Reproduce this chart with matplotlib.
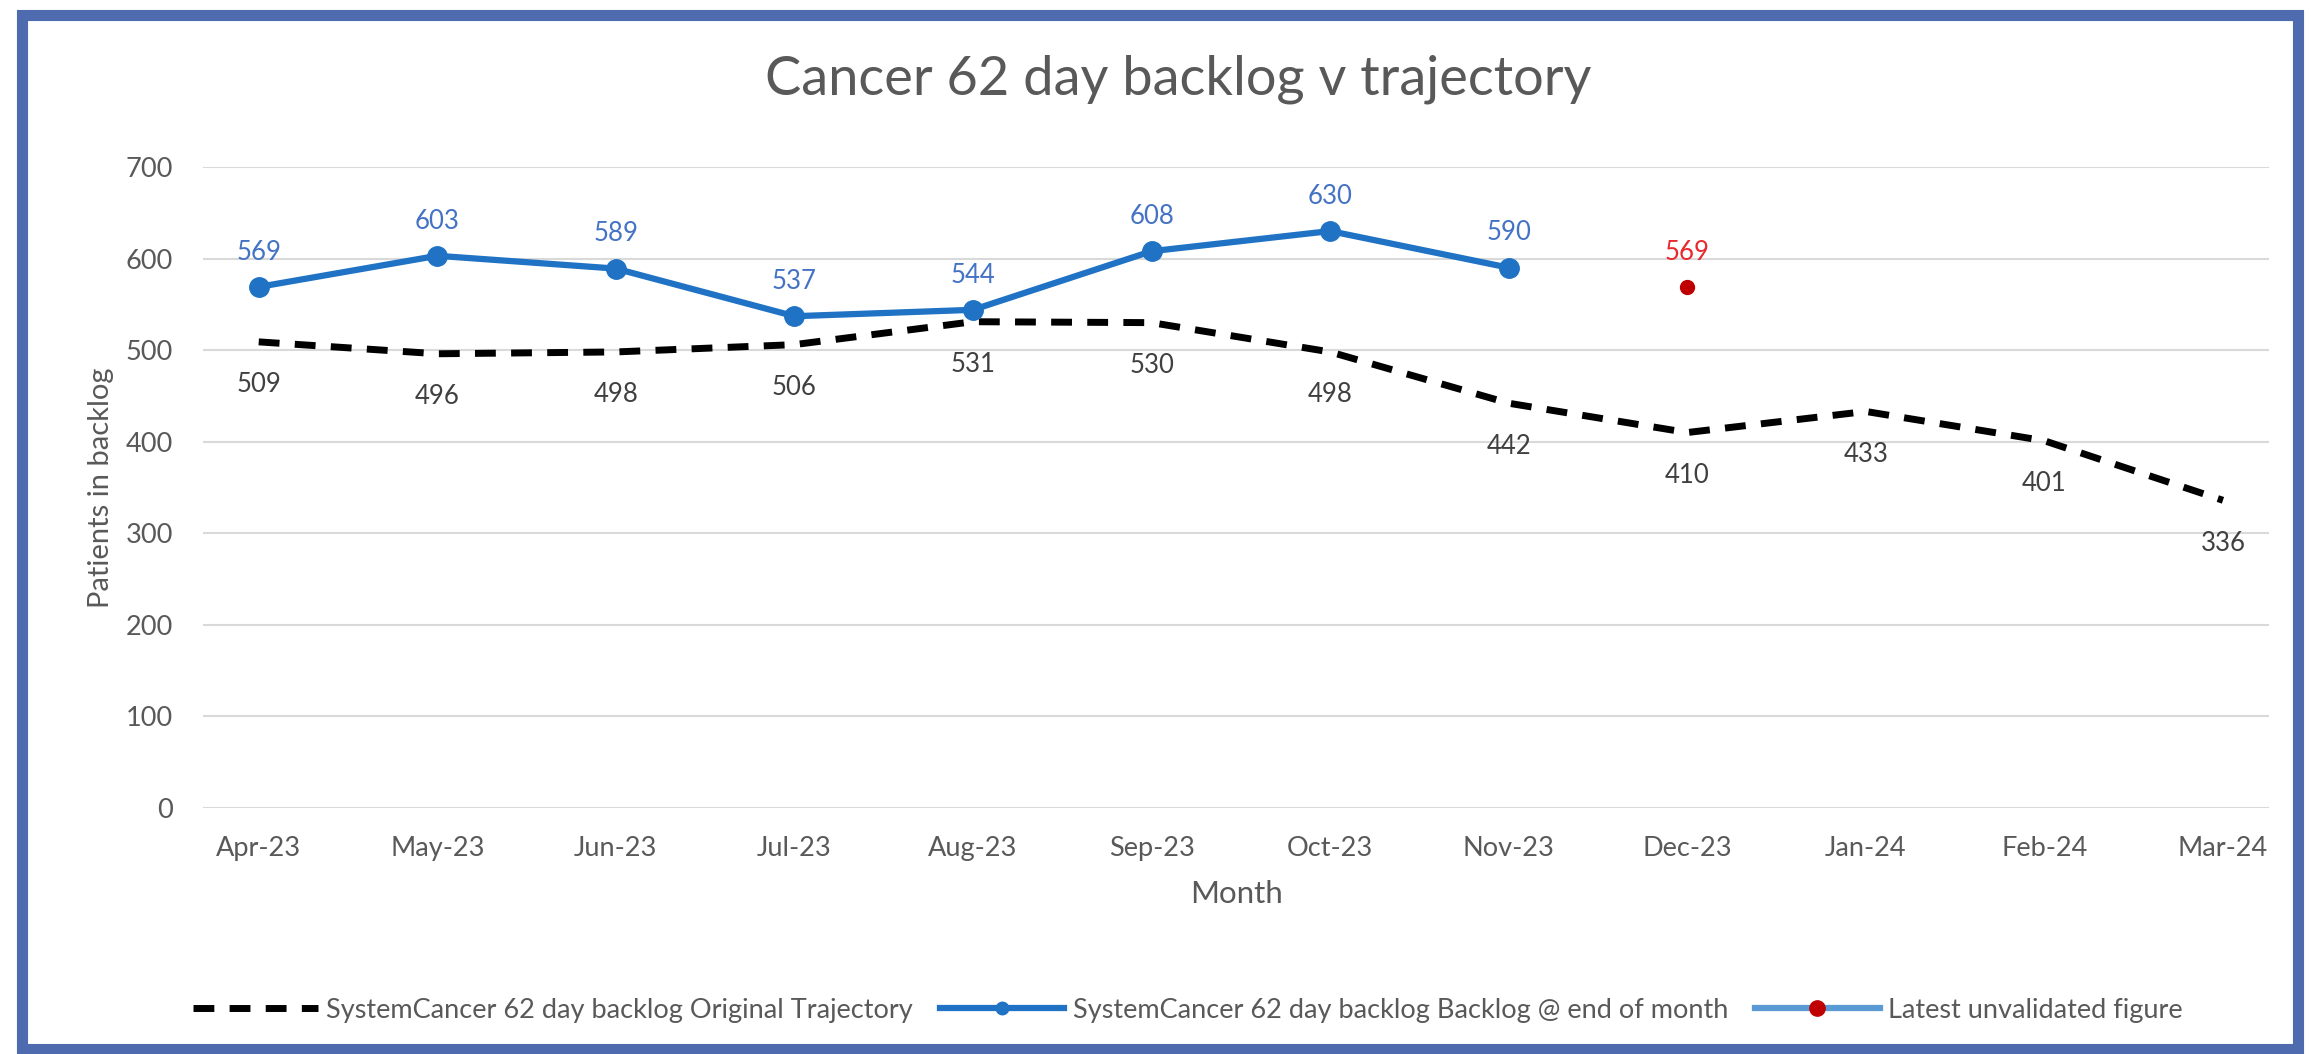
import matplotlib.pyplot as plt
from matplotlib.patches import Rectangle

plt.rcParams['font.family'] = ['Lato', 'DejaVu Sans']

months = ['Apr-23', 'May-23', 'Jun-23', 'Jul-23', 'Aug-23', 'Sep-23',
          'Oct-23', 'Nov-23', 'Dec-23', 'Jan-24', 'Feb-24', 'Mar-24']
trajectory = [509, 496, 498, 506, 531, 530, 498, 442, 410, 433, 401, 336]
backlog = [569, 603, 589, 537, 544, 608, 630, 590]
latest_idx = 8
latest_val = 569

x = list(range(len(months)))

fig = plt.figure(figsize=(23.11, 10.54), dpi=100)
ax = fig.add_axes([0.088, 0.2334, 0.894, 0.6082])

ax.plot(x, trajectory, color='black', lw=5, ls=(0, (3, 2.2)),
        label='SystemCancer 62 day backlog Original Trajectory', zorder=3)
ax.plot(x[:len(backlog)], backlog, color='#1F72C4', lw=4.5, marker='o', ms=14,
        label='SystemCancer 62 day backlog Backlog @ end of month', zorder=4)
ax.plot([latest_idx], [latest_val], color='#5B9BD5', lw=4.5, marker='o', ms=10,
        mfc='#C00000', mec='#C00000', label='Latest unvalidated figure', zorder=5)

for i, v in enumerate(trajectory):
    ax.annotate(str(v), (i, v), xytext=(0, -22), textcoords='offset points',
                ha='center', va='top', fontsize=18.5, color='#404040')
for i, v in enumerate(backlog):
    ax.annotate(str(v), (i, v), xytext=(0, 16), textcoords='offset points',
                ha='center', va='bottom', fontsize=18.5, color='#4472C4')
ax.annotate(str(latest_val), (latest_idx, latest_val), xytext=(0, 16),
            textcoords='offset points', ha='center', va='bottom', fontsize=18.5,
            color='#E8292E')

ax.set_xlim(-0.31, 11.26)
ax.set_ylim(0, 700)
ax.set_yticks(range(0, 701, 100))
ax.set_xticks(x)
ax.set_xticklabels(months)
ax.tick_params(length=0, labelsize=19.5, labelcolor='#595959', pad=20)
ax.tick_params(axis='y', pad=22)
ax.grid(axis='y', color='#D9D9D9', lw=1.5)
ax.set_axisbelow(True)
for s in ax.spines.values():
    s.set_visible(False)

ax.set_ylabel('Patients in backlog', fontsize=21, color='#595959', labelpad=8)
ax.set_xlabel('Month', fontsize=22.5, color='#595959', labelpad=14)
fig.text(0.51, 0.925, 'Cancer 62 day backlog v trajectory', ha='center', va='center',
         fontsize=39, color='#595959')

leg = ax.legend(loc='center', bbox_to_anchor=(0.514, 0.0415), bbox_transform=fig.transFigure,
                ncol=3, frameon=False, fontsize=19.5, handlelength=4.6, handletextpad=0.3,
                columnspacing=1.0, labelcolor='#595959')
leg.legend_handles[1].set_markersize(9)
leg.legend_handles[2].set_markersize(11)

fig.patches.append(Rectangle((0.0095, 0.005), 0.985, 0.981, transform=fig.transFigure,
                             fill=False, ec='#4F6BB0', lw=8))

fig.savefig('out.png', dpi=100)
